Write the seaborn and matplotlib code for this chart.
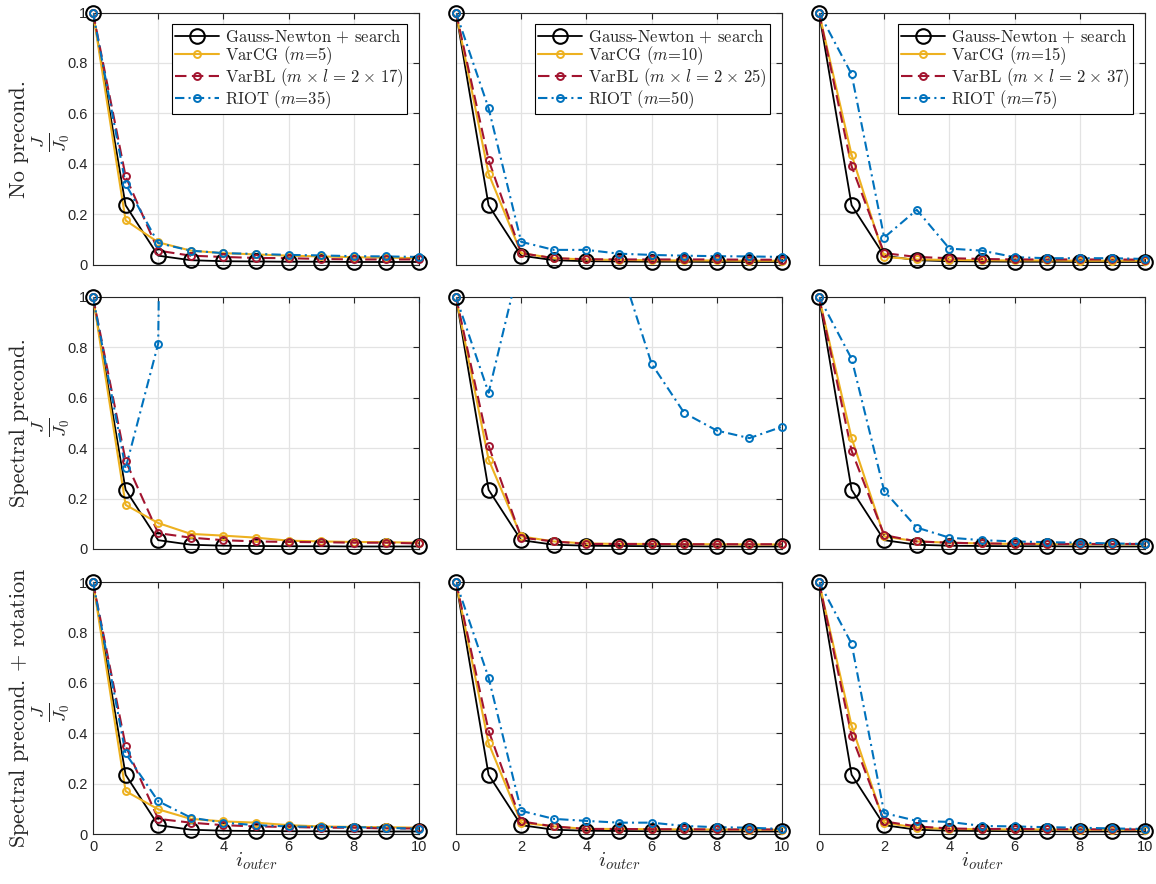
import matplotlib
matplotlib.use("Agg")
import matplotlib.pyplot as plt
from matplotlib.lines import Line2D
import numpy as np
import pandas as pd
import seaborn as sns

# ---------------------------------------------------------------- data
outer_iter = list(range(11))
x_ticks = [0, 2, 4, 6, 8, 10]
y_ticks = [0, 0.2, 0.4, 0.6, 0.8, 1.0]

row_titles = ["No precond.", "Spectral precond.", r"Spectral precond. $+$ rotation"]

gn_label = r"Gauss-Newton $+$ search"
varcg_labels = [r"VarCG ($m$=5)", r"VarCG ($m$=10)", r"VarCG ($m$=15)"]
varbl_labels = [r"VarBL ($m\hspace{0.1}\times\hspace{0.1}l\hspace{0.12}=\hspace{0.12}2\hspace{0.1}\times\hspace{0.1}17$)",
                r"VarBL ($m\hspace{0.1}\times\hspace{0.1}l\hspace{0.12}=\hspace{0.12}2\hspace{0.1}\times\hspace{0.1}25$)",
                r"VarBL ($m\hspace{0.1}\times\hspace{0.1}l\hspace{0.12}=\hspace{0.12}2\hspace{0.1}\times\hspace{0.1}37$)"]
riot_labels = [r"RIOT ($m$=35)", r"RIOT ($m$=50)", r"RIOT ($m$=75)"]

# Gauss-Newton reference run (same in every panel)
gauss_newton = [1.0, 0.235, 0.035, 0.017, 0.013, 0.012, 0.011, 0.011, 0.010, 0.010, 0.010]

# no preconditioning, one list per inner-loop budget
varcg_none = [
    [1.0, 0.175, 0.088, 0.055, 0.045, 0.040, 0.035, 0.032, 0.029, 0.027, 0.025],
    [1.0, 0.360, 0.045, 0.025, 0.020, 0.018, 0.017, 0.016, 0.016, 0.015, 0.015],
    [1.0, 0.435, 0.030, 0.020, 0.018, 0.017, 0.016, 0.016, 0.015, 0.015, 0.015],
]
varbl_none = [
    [1.0, 0.350, 0.055, 0.035, 0.030, 0.026, 0.025, 0.022, 0.020, 0.020, 0.020],
    [1.0, 0.415, 0.045, 0.025, 0.021, 0.020, 0.020, 0.020, 0.020, 0.019, 0.019],
    [1.0, 0.390, 0.045, 0.030, 0.025, 0.022, 0.020, 0.020, 0.020, 0.020, 0.019],
]
riot_none = [
    [1.0, 0.320, 0.085, 0.055, 0.045, 0.042, 0.038, 0.036, 0.033, 0.032, 0.030],
    [1.0, 0.620, 0.090, 0.058, 0.058, 0.043, 0.038, 0.035, 0.033, 0.032, 0.030],
    [1.0, 0.755, 0.107, 0.217, 0.063, 0.055, 0.029, 0.025, 0.025, 0.025, 0.022],
]

# spectral preconditioning
varcg_spec = [
    [1.0, 0.175, 0.103, 0.060, 0.053, 0.045, 0.033, 0.030, 0.028, 0.027, 0.025],
    [1.0, 0.355, 0.050, 0.030, 0.022, 0.020, 0.020, 0.019, 0.019, 0.018, 0.018],
    [1.0, 0.440, 0.050, 0.030, 0.025, 0.022, 0.020, 0.020, 0.019, 0.019, 0.018],
]
varbl_spec = [
    [1.0, 0.350, 0.063, 0.045, 0.035, 0.030, 0.028, 0.027, 0.025, 0.025, 0.022],
    [1.0, 0.410, 0.045, 0.030, 0.020, 0.020, 0.020, 0.019, 0.019, 0.019, 0.019],
    [1.0, 0.390, 0.055, 0.030, 0.025, 0.022, 0.021, 0.020, 0.020, 0.020, 0.020],
]
riot_spec = [
    [1.0, 0.320, 0.815, 12.0, 10.0, 9.0, 8.0, 8.0, 7.0, 7.0, 7.0],
    [1.0, 0.620, 1.16, 1.45, 1.45, 1.14, 0.735, 0.540, 0.470, 0.440, 0.485],
    [1.0, 0.755, 0.230, 0.085, 0.045, 0.035, 0.030, 0.027, 0.025, 0.022, 0.020],
]

# spectral preconditioning + rotation
varcg_rot = [
    [1.0, 0.170, 0.098, 0.060, 0.050, 0.045, 0.035, 0.030, 0.028, 0.027, 0.025],
    [1.0, 0.360, 0.045, 0.030, 0.020, 0.020, 0.019, 0.018, 0.018, 0.017, 0.017],
    [1.0, 0.430, 0.045, 0.025, 0.020, 0.019, 0.018, 0.018, 0.017, 0.017, 0.017],
]
varbl_rot = [
    [1.0, 0.350, 0.060, 0.045, 0.035, 0.030, 0.028, 0.025, 0.025, 0.022, 0.022],
    [1.0, 0.410, 0.050, 0.030, 0.020, 0.020, 0.019, 0.019, 0.018, 0.018, 0.018],
    [1.0, 0.390, 0.050, 0.030, 0.022, 0.020, 0.020, 0.019, 0.019, 0.018, 0.018],
]
riot_rot = [
    [1.0, 0.320, 0.130, 0.065, 0.045, 0.035, 0.030, 0.028, 0.027, 0.025, 0.020],
    [1.0, 0.620, 0.092, 0.060, 0.052, 0.045, 0.045, 0.032, 0.027, 0.025, 0.020],
    [1.0, 0.755, 0.083, 0.052, 0.048, 0.032, 0.030, 0.027, 0.025, 0.022, 0.020],
]

varcg_rows = [varcg_none, varcg_spec, varcg_rot]
varbl_rows = [varbl_none, varbl_spec, varbl_rot]
riot_rows = [riot_none, riot_spec, riot_rot]

# ---------------------------------------------------------------- style
sns.set_style("white")
plt.rcParams["mathtext.fontset"] = "cm"
plt.rcParams["font.family"] = ["Liberation Sans", "DejaVu Sans"]
SERIF = ["cmr10", "DejaVu Serif"]

C_GN = "#000000"
C_CG = "#EDB120"
C_BL = "#A2142F"
C_RIOT = "#0072BD"

styles = {
    "gn":   dict(color=C_GN, lw=1.3, ls="-", ms=10.5, mew=1.5),
    "cg":   dict(color=C_CG, lw=1.5, ls="-", ms=5.0, mew=1.4),
    "bl":   dict(color=C_BL, lw=1.5, ls=(0, (5.5, 2.6)), ms=5.0, mew=1.4),
    "riot": dict(color=C_RIOT, lw=1.5, ls=(0, (4.5, 2.0, 1.0, 2.0)), ms=5.0, mew=1.4),
}

W, H = 1156, 884
fig = plt.figure(figsize=(W / 100, H / 100), dpi=100)

col_left = [93, 456, 819]
ax_w = 326
row_top = [12.5, 297, 582]
ax_h = 252


def draw_series(ax, values, st):
    df = pd.DataFrame({"i": outer_iter, "J": values})
    sns.lineplot(data=df, x="i", y="J", ax=ax, color=st["color"],
                 linewidth=st["lw"], linestyle=st["ls"], errorbar=None,
                 sort=False, zorder=3)
    inside = df[(df["J"] >= 0) & (df["J"] <= 1.0)]
    ax.plot(inside["i"], inside["J"], linestyle="none", marker="o",
            markersize=st["ms"], markerfacecolor="none",
            markeredgecolor=st["color"], markeredgewidth=st["mew"],
            clip_on=False, zorder=4)


def handle(st):
    return Line2D([0], [0], color=st["color"], lw=st["lw"], ls=st["ls"],
                  marker="o", ms=st["ms"], mfc="none", mec=st["color"],
                  mew=st["mew"])


for r in range(3):
    for c in range(3):
        left = col_left[c] / W
        bottom = 1 - (row_top[r] + ax_h) / H
        ax = fig.add_axes([left, bottom, ax_w / W, ax_h / H])

        draw_series(ax, gauss_newton, styles["gn"])
        draw_series(ax, varcg_rows[r][c], styles["cg"])
        draw_series(ax, varbl_rows[r][c], styles["bl"])
        draw_series(ax, riot_rows[r][c], styles["riot"])

        ax.set_xlim(0, 10)
        ax.set_ylim(0, 1)
        ax.set_xticks(x_ticks)
        ax.set_yticks(y_ticks)
        ax.grid(True, color="#e3e3e3", lw=0.9, zorder=0)
        ax.set_axisbelow(True)
        for sp in ax.spines.values():
            sp.set_color("#262626")
            sp.set_linewidth(0.8)
        ax.tick_params(direction="in", length=4, width=0.8, color="#262626",
                       top=True, right=True, labelsize=10.5,
                       labelcolor="#262626", pad=4)
        ax.set_xlabel("")
        ax.set_ylabel("")

        if c == 0:
            ax.set_yticklabels(["0", "0.2", "0.4", "0.6", "0.8", "1"])
        else:
            ax.set_yticklabels([])
        if r == 2:
            ax.set_xticklabels([str(t) for t in x_ticks])
            ax.set_xlabel(r"$i_{outer}$", fontsize=15, labelpad=-2)
        else:
            ax.set_xticklabels([])

        if r == 0:
            leg = ax.legend(
                [handle(styles["gn"]), handle(styles["cg"]),
                 handle(styles["bl"]), handle(styles["riot"])],
                [gn_label, varcg_labels[c], varbl_labels[c], riot_labels[c]],
                loc="upper right", prop={"family": SERIF, "size": 12},
                frameon=True, fancybox=False, framealpha=1,
                edgecolor="#000000", borderpad=0.2, labelspacing=-0.05,
                handlelength=2.6, handletextpad=0.4, borderaxespad=0.7)
            leg.get_frame().set_linewidth(0.8)

    # two-line row label: row title and the normalised cost
    yc = 1 - (row_top[r] + ax_h / 2) / H
    fig.text(19 / W, yc, row_titles[r], rotation=90, ha="center", va="center",
             fontsize=16, family=SERIF)
    fig.text(51 / W, yc - 4 / H, r"$\frac{J}{J_0}$", rotation=90, ha="center",
             va="center", fontsize=19)

fig.savefig("out.png", dpi=100)
